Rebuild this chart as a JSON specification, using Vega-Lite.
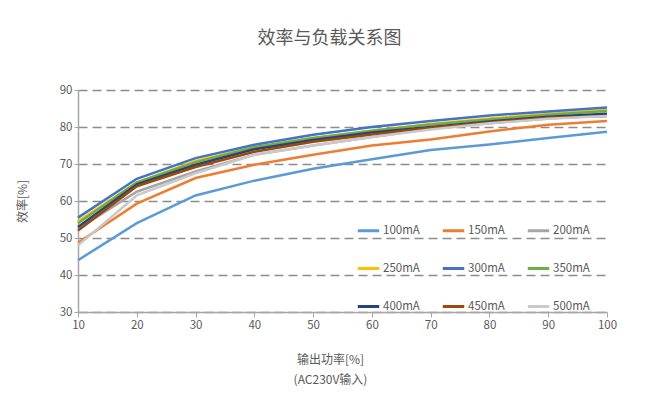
{
  "$schema": "https://vega.github.io/schema/vega-lite/v6.json",
  "width": 529,
  "height": 222,
  "autosize": "none",
  "padding": {"left": 78, "top": 90, "right": 47, "bottom": 91},
  "background": "white",
  "title": {
    "text": "效率与负载关系图",
    "fontSize": 18,
    "font": "Noto Sans CJK SC",
    "fontWeight": "normal",
    "color": "#595959",
    "anchor": "middle",
    "dx": -13,
    "offset": 36
  },
  "config": {
    "font": "Noto Sans CJK SC",
    "view": {"stroke": null},
    "axis": {
      "labelColor": "#595959",
      "titleColor": "#595959",
      "labelFontSize": 11.5,
      "titleFontSize": 12,
      "titleFontWeight": "normal",
      "domainColor": "#A6A6A6",
      "tickColor": "#A6A6A6",
      "domainWidth": 1.5,
      "tickWidth": 1,
      "labelFlush": false
    }
  },
  "data": {
    "values": [
      {"p":10,"eff":44.0,"s":"100mA"},{"p":20,"eff":54.0,"s":"100mA"},{"p":30,"eff":61.5,"s":"100mA"},{"p":40,"eff":65.5,"s":"100mA"},{"p":50,"eff":68.7,"s":"100mA"},{"p":60,"eff":71.3,"s":"100mA"},{"p":70,"eff":73.8,"s":"100mA"},{"p":80,"eff":75.3,"s":"100mA"},{"p":90,"eff":77.0,"s":"100mA"},{"p":100,"eff":78.7,"s":"100mA"},
      {"p":10,"eff":48.7,"s":"150mA"},{"p":20,"eff":59.3,"s":"150mA"},{"p":30,"eff":66.2,"s":"150mA"},{"p":40,"eff":69.8,"s":"150mA"},{"p":50,"eff":72.5,"s":"150mA"},{"p":60,"eff":75.0,"s":"150mA"},{"p":70,"eff":76.6,"s":"150mA"},{"p":80,"eff":78.8,"s":"150mA"},{"p":90,"eff":80.6,"s":"150mA"},{"p":100,"eff":81.6,"s":"150mA"},
      {"p":10,"eff":52.5,"s":"200mA"},{"p":20,"eff":62.5,"s":"200mA"},{"p":30,"eff":68.0,"s":"200mA"},{"p":40,"eff":72.5,"s":"200mA"},{"p":50,"eff":75.0,"s":"200mA"},{"p":60,"eff":77.3,"s":"200mA"},{"p":70,"eff":79.5,"s":"200mA"},{"p":80,"eff":81.0,"s":"200mA"},{"p":90,"eff":82.3,"s":"200mA"},{"p":100,"eff":83.2,"s":"200mA"},
      {"p":10,"eff":54.5,"s":"250mA"},{"p":20,"eff":65.0,"s":"250mA"},{"p":30,"eff":70.8,"s":"250mA"},{"p":40,"eff":74.5,"s":"250mA"},{"p":50,"eff":77.0,"s":"250mA"},{"p":60,"eff":79.0,"s":"250mA"},{"p":70,"eff":80.8,"s":"250mA"},{"p":80,"eff":82.3,"s":"250mA"},{"p":90,"eff":83.5,"s":"250mA"},{"p":100,"eff":84.6,"s":"250mA"},
      {"p":10,"eff":55.5,"s":"300mA"},{"p":20,"eff":66.0,"s":"300mA"},{"p":30,"eff":71.6,"s":"300mA"},{"p":40,"eff":75.2,"s":"300mA"},{"p":50,"eff":77.9,"s":"300mA"},{"p":60,"eff":80.0,"s":"300mA"},{"p":70,"eff":81.6,"s":"300mA"},{"p":80,"eff":83.1,"s":"300mA"},{"p":90,"eff":84.2,"s":"300mA"},{"p":100,"eff":85.3,"s":"300mA"},
      {"p":10,"eff":54.0,"s":"350mA"},{"p":20,"eff":65.0,"s":"350mA"},{"p":30,"eff":70.5,"s":"350mA"},{"p":40,"eff":74.5,"s":"350mA"},{"p":50,"eff":77.0,"s":"350mA"},{"p":60,"eff":79.0,"s":"350mA"},{"p":70,"eff":80.7,"s":"350mA"},{"p":80,"eff":82.0,"s":"350mA"},{"p":90,"eff":83.3,"s":"350mA"},{"p":100,"eff":84.3,"s":"350mA"},
      {"p":10,"eff":53.0,"s":"400mA"},{"p":20,"eff":64.5,"s":"400mA"},{"p":30,"eff":69.8,"s":"400mA"},{"p":40,"eff":74.0,"s":"400mA"},{"p":50,"eff":76.5,"s":"400mA"},{"p":60,"eff":78.5,"s":"400mA"},{"p":70,"eff":80.0,"s":"400mA"},{"p":80,"eff":81.5,"s":"400mA"},{"p":90,"eff":82.8,"s":"400mA"},{"p":100,"eff":83.6,"s":"400mA"},
      {"p":10,"eff":52.0,"s":"450mA"},{"p":20,"eff":64.0,"s":"450mA"},{"p":30,"eff":69.2,"s":"450mA"},{"p":40,"eff":73.3,"s":"450mA"},{"p":50,"eff":76.0,"s":"450mA"},{"p":60,"eff":78.0,"s":"450mA"},{"p":70,"eff":79.8,"s":"450mA"},{"p":80,"eff":81.2,"s":"450mA"},{"p":90,"eff":82.5,"s":"450mA"},{"p":100,"eff":83.0,"s":"450mA"},
      {"p":10,"eff":48.0,"s":"500mA"},{"p":20,"eff":61.5,"s":"500mA"},{"p":30,"eff":67.5,"s":"500mA"},{"p":40,"eff":72.5,"s":"500mA"},{"p":50,"eff":75.0,"s":"500mA"},{"p":60,"eff":77.3,"s":"500mA"},{"p":70,"eff":79.3,"s":"500mA"},{"p":80,"eff":81.0,"s":"500mA"},{"p":90,"eff":82.2,"s":"500mA"},{"p":100,"eff":83.0,"s":"500mA"}
    ]
  },
  "mark": {"type": "line", "strokeWidth": 2.5},
  "encoding": {
    "x": {
      "field": "p",
      "type": "quantitative",
      "scale": {"domain": [10, 100], "nice": false},
      "axis": {
        "values": [10,20,30,40,50,60,70,80,90,100],
        "grid": false,
        "tickSize": 5,
        "labelPadding": 2,
        "title": ["输出功率[%]", "(AC230V输入)"],
        "titlePadding": 24,
        "titleLineHeight": 20,
        "titleX": 252
      }
    },
    "y": {
      "field": "eff",
      "type": "quantitative",
      "scale": {"domain": [30, 90], "nice": false, "zero": false},
      "axis": {
        "values": [30,40,50,60,70,80,90],
        "grid": true,
        "gridDash": [9, 5],
        "gridColor": "#8C8C8C",
        "gridWidth": 1.5,
        "tickSize": 4,
        "labelPadding": 2,
        "title": "效率[%]",
        "titlePadding": 30
      }
    },
    "color": {
      "field": "s",
      "type": "nominal",
      "scale": {
        "domain": ["100mA","150mA","200mA","250mA","300mA","350mA","400mA","450mA","500mA"],
        "range": ["#5B9BD5","#ED7D31","#A5A5A5","#FFC000","#4472C4","#70AD47","#264478","#9E480E","#C9C9C9"]
      },
      "legend": {
        "title": null,
        "orient": "none",
        "legendX": 278,
        "legendY": 128,
        "columns": 3,
        "symbolType": "stroke",
        "symbolStrokeWidth": 3,
        "symbolSize": 460,
        "labelFontSize": 11.5,
        "labelColor": "#595959",
        "labelOffset": 2,
        "columnPadding": 16,
        "rowPadding": 19,
        "direction": "horizontal"
      }
    },
    "order": {"field": "s"}
  }
}
